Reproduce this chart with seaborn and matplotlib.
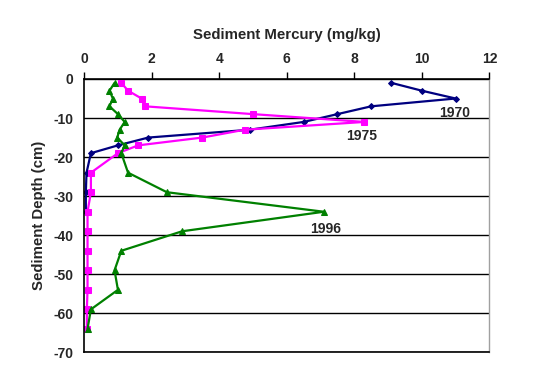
import pandas as pd
import matplotlib
matplotlib.use('Agg')
import matplotlib.pyplot as plt
import seaborn as sns

# Sediment core data (mercury mg/kg vs depth cm)
depth_1970 = [-1, -3, -5, -7, -9, -11, -13, -15, -17, -19, -24, -29, -34]
hg_1970 = [9.1, 10.0, 11.0, 8.5, 7.5, 6.5, 4.9, 1.9, 1.0, 0.2, 0.07, 0.05, 0.05]

depth_1975 = [-1, -3, -5, -7, -9, -11, -13, -15, -17, -19, -24, -29,
              -34, -39, -44, -49, -54, -59, -64]
hg_1975 = [1.1, 1.3, 1.7, 1.8, 5.0, 8.3, 4.75, 3.5, 1.6, 1.0, 0.2, 0.2,
           0.1, 0.1, 0.1, 0.1, 0.1, 0.08, 0.08]

depth_1996 = [-1, -3, -5, -7, -9, -11, -13, -15, -17, -19, -24, -29,
              -34, -39, -44, -49, -54, -59, -64]
hg_1996 = [0.9, 0.75, 0.85, 0.75, 1.0, 1.2, 1.05, 0.98, 1.2, 1.1, 1.3, 2.45,
           7.1, 2.9, 1.1, 0.9, 1.0, 0.2, 0.1]

labels = ['1970', '1975', '1996']
label_pos = [(10.98, -8.7), (8.23, -14.6), (7.15, -38.5)]

x_ticks = [0, 2, 4, 6, 8, 10, 12]
y_ticks = [0, -10, -20, -30, -40, -50, -60, -70]

sns.set_style('white')
plt.rcParams['font.family'] = ['Liberation Sans', 'DejaVu Sans']
plt.rcParams['font.weight'] = 'bold'
plt.rcParams['axes.unicode_minus'] = False

fig = plt.figure(figsize=(5.36, 3.79), dpi=100)
ax = fig.add_axes([0.157, 0.0704, 0.756, 0.7212])

series = [
    (hg_1970, depth_1970, '#000080', 'D', 3),
    (hg_1975, depth_1975, '#FF00FF', 's', 5),
    (hg_1996, depth_1996, '#008000', '^', 4),
]
for hg, depth, color, marker, ms in series:
    df = pd.DataFrame({'hg': hg, 'depth': depth})
    sns.lineplot(data=df, x='hg', y='depth', sort=False, estimator=None,
                 color=color, marker=marker, markersize=ms,
                 markeredgecolor=color, linewidth=1.6, ax=ax)

for lab, (lx, ly) in zip(labels, label_pos):
    ax.text(lx, ly, lab, ha='center', va='center', fontsize=10, fontweight='bold')

ax.set_xlim(0, 12)
ax.set_ylim(-70, 0)
ax.set_xticks(x_ticks)
ax.set_yticks(y_ticks)
ax.xaxis.tick_top()
ax.xaxis.set_label_position('top')
ax.tick_params(axis='x', direction='out', length=5, width=1, color='black',
               labelsize=10, pad=4)
ax.tick_params(axis='y', direction='out', length=5, width=1, color='black',
               labelsize=10, pad=3)
ax.set_xlabel('Sediment Mercury (mg/kg)', fontsize=10.8, fontweight='bold', labelpad=10)
ax.set_ylabel('Sediment Depth (cm)', fontsize=10.8, fontweight='bold', labelpad=5)

ax.yaxis.grid(True, color='black', linewidth=1)
ax.set_axisbelow(True)
for side in ['top', 'left', 'bottom']:
    ax.spines[side].set_color('black')
    ax.spines[side].set_linewidth(1.2)
ax.spines['right'].set_color('#a0a0a0')
ax.spines['right'].set_linewidth(1)
ax.legend_ = None

fig.savefig('out.png', dpi=100)
